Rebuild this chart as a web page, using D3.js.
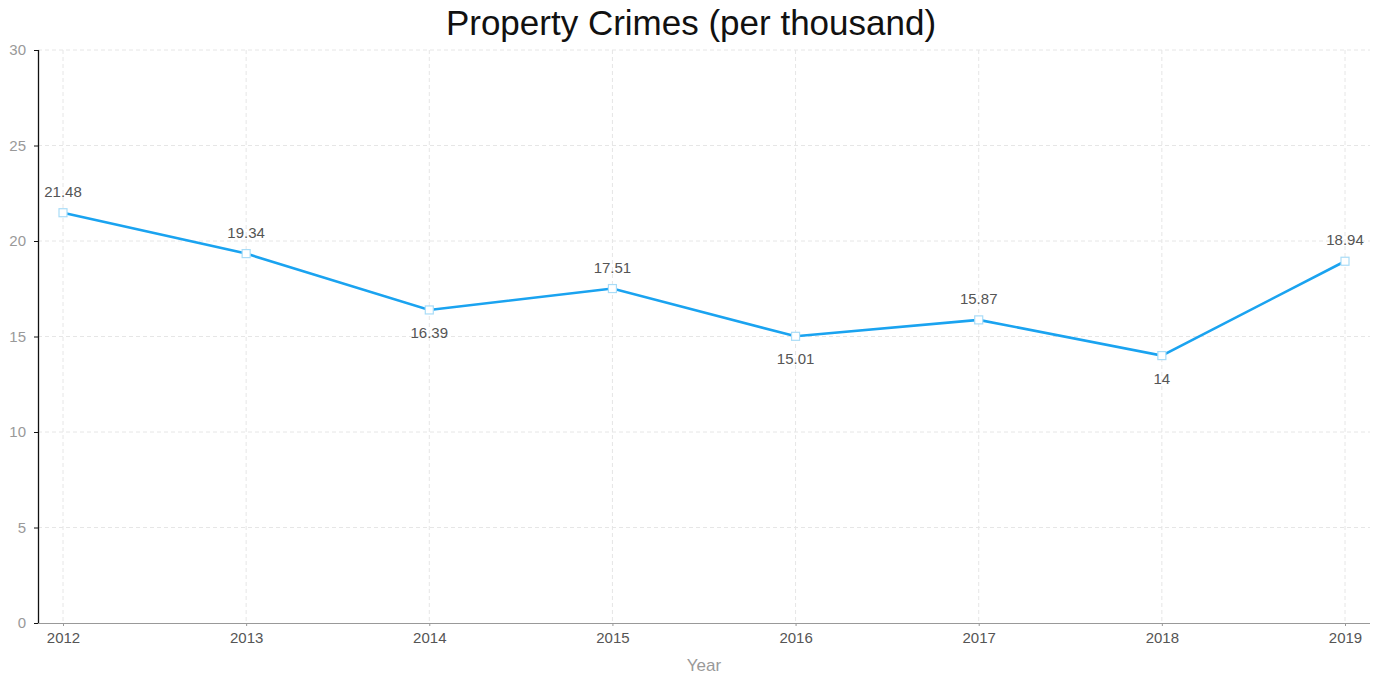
<!DOCTYPE html>
<html>
<head>
<meta charset="utf-8">
<script src="https://cdn.jsdelivr.net/npm/d3@7"></script>
<style>
  html, body { margin: 0; padding: 0; background: #fff; }
  svg { display: block; font-family: "Liberation Sans", Arial, sans-serif; }
</style>
</head>
<body>
<svg id="chart" width="1382" height="678"></svg>
<script>
// Property crime rate per thousand residents, by year
const years = ["2012", "2013", "2014", "2015", "2016", "2017", "2018", "2019"];
const rates = [21.48, 19.34, 16.39, 17.51, 15.01, 15.87, 14, 18.94];
// Years whose value label sits under the point (local lows)
const labelBelow = ["2014", "2016", "2018"];
const yTicks = [0, 5, 10, 15, 20, 25, 30];

const svg = d3.select("#chart");
const plotL = 38, plotR = 1370, plotT = 50, plotB = 623;
const inset = 25;

const x = d3.scalePoint().domain(years).range([plotL + inset, plotR - inset]);
const y = d3.scaleLinear().domain([0, 30]).range([plotB, plotT]);

// Title
svg.append("text")
  .attr("x", 691).attr("y", 35)
  .attr("text-anchor", "middle")
  .attr("font-size", 35)
  .attr("fill", "#111")
  .text("Property Crimes (per thousand)");

// Grid
const grid = svg.append("g");
grid.selectAll(".hg").data(yTicks.filter(d => d > 0)).join("line")
  .attr("x1", plotL).attr("x2", plotR)
  .attr("y1", d => y(d)).attr("y2", d => y(d))
  .attr("stroke", "#e6e6e6").attr("stroke-dasharray", "4,3");
grid.selectAll(".vg").data(years).join("line")
  .attr("x1", d => x(d)).attr("x2", d => x(d))
  .attr("y1", plotT).attr("y2", plotB)
  .attr("stroke", "#e6e6e6").attr("stroke-dasharray", "4,3");

// X axis
const xAxis = svg.append("g")
  .attr("transform", `translate(0,${plotB})`)
  .call(d3.axisBottom(x).tickSize(3).tickPadding(6));
xAxis.select(".domain").attr("stroke", "#999").attr("d", `M${plotL},0.5H${plotR}`);
xAxis.selectAll(".tick line").attr("stroke", "#999");
xAxis.selectAll(".tick text").attr("fill", "#555").attr("font-size", 15)
  .attr("font-family", "'Liberation Sans', Arial, sans-serif");

// Y axis
const yAxis = svg.append("g")
  .attr("transform", `translate(${plotL},0)`)
  .call(d3.axisLeft(y).tickValues(yTicks).tickSize(4).tickPadding(8));
yAxis.select(".domain").attr("stroke", "#111").attr("stroke-width", 1.3).attr("d", `M0.5,${plotT}V${plotB}`);
yAxis.selectAll(".tick line").attr("stroke", "#111");
yAxis.selectAll(".tick text").attr("fill", "#999").attr("font-size", 15)
  .attr("font-family", "'Liberation Sans', Arial, sans-serif");

// Axis title
svg.append("text")
  .attr("x", (plotL + plotR) / 2).attr("y", 671)
  .attr("text-anchor", "middle")
  .attr("font-size", 17)
  .attr("fill", "#999")
  .text("Year");

// Line
const pts = years.map((yr, i) => ({ year: yr, value: rates[i] }));
svg.append("path")
  .datum(pts)
  .attr("fill", "none")
  .attr("stroke", "#1aa3f0")
  .attr("stroke-width", 2.6)
  .attr("d", d3.line().x(d => x(d.year)).y(d => y(d.value)));

// Markers
svg.selectAll(".mk").data(pts).join("rect")
  .attr("x", d => x(d.year) - 4).attr("y", d => y(d.value) - 4)
  .attr("width", 8).attr("height", 8)
  .attr("fill", "#fff")
  .attr("stroke", "#a9dcf7")
  .attr("stroke-width", 1.2);

// Value labels
svg.selectAll(".lbl").data(pts).join("text")
  .attr("x", d => x(d.year))
  .attr("y", d => labelBelow.includes(d.year) ? y(d.value) + 28 : y(d.value) - 16)
  .attr("text-anchor", "middle")
  .attr("font-size", 15)
  .attr("fill", "#555")
  .text(d => d.value);
</script>
</body>
</html>
